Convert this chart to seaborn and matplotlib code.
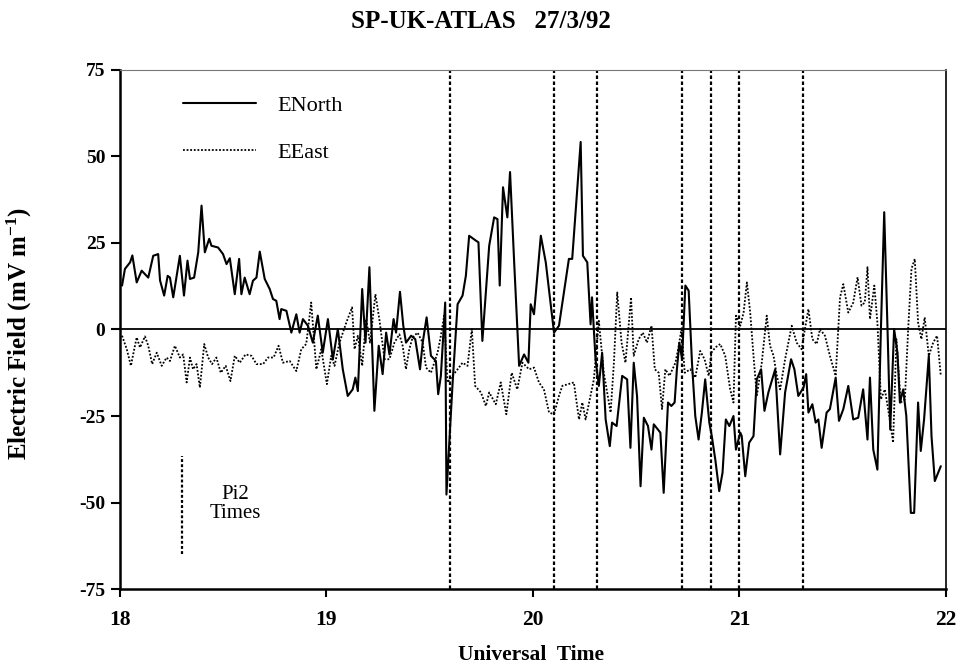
import matplotlib
matplotlib.use("Agg")
import matplotlib.pyplot as plt
import seaborn as sns
import pandas as pd
from matplotlib.lines import Line2D

# ---------------- data ----------------
TITLE = "SP-UK-ATLAS   27/3/92"
X_LABEL = "Universal  Time"
Y_LABEL = r"Electric Field (mV m$^{\mathbf{-1}}$)"
X_TICKS = [18, 19, 20, 21, 22]
Y_TICKS = [-75, -50, -25, 0, 25, 50, 75]

enorth_time = [
    18.010, 18.024, 18.049, 18.060, 18.081, 18.105, 18.137, 18.161, 18.185, 18.194,
    18.214, 18.231, 18.242, 18.258, 18.290, 18.310, 18.327, 18.339, 18.359, 18.379,
    18.395, 18.411, 18.432, 18.443, 18.475, 18.499, 18.516, 18.532, 18.556, 18.577,
    18.588, 18.604, 18.628, 18.644, 18.661, 18.677, 18.701, 18.725, 18.741, 18.757,
    18.773, 18.781, 18.806, 18.830, 18.854, 18.870, 18.886, 18.910, 18.934, 18.958,
    18.982, 19.007, 19.031, 19.055, 19.079, 19.103, 19.127, 19.140, 19.152, 19.173,
    19.189, 19.208, 19.232, 19.253, 19.272, 19.289, 19.305, 19.325, 19.337, 19.356,
    19.372, 19.385, 19.410, 19.430, 19.453, 19.466, 19.485, 19.506, 19.530, 19.541,
    19.554, 19.575, 19.581, 19.595, 19.610, 19.635, 19.659, 19.675, 19.691, 19.723,
    19.736, 19.755, 19.788, 19.812, 19.828, 19.839, 19.855, 19.876, 19.889, 19.909,
    19.933, 19.957, 19.978, 19.989, 20.005, 20.038, 20.062, 20.102, 20.126, 20.174,
    20.190, 20.231, 20.242, 20.263, 20.279, 20.286, 20.303, 20.319, 20.335, 20.352,
    20.372, 20.383, 20.405, 20.432, 20.456, 20.472, 20.488, 20.504, 20.521, 20.537,
    20.557, 20.574, 20.585, 20.617, 20.633, 20.654, 20.670, 20.686, 20.697, 20.709,
    20.722, 20.738, 20.754, 20.770, 20.786, 20.802, 20.818, 20.834, 20.854, 20.866,
    20.883, 20.902, 20.918, 20.934, 20.951, 20.971, 20.983, 21.004, 21.011, 21.028,
    21.047, 21.068, 21.084, 21.105, 21.121, 21.140, 21.173, 21.197, 21.221, 21.250,
    21.266, 21.285, 21.310, 21.323, 21.334, 21.353, 21.369, 21.382, 21.398, 21.422,
    21.438, 21.466, 21.482, 21.503, 21.527, 21.551, 21.575, 21.599, 21.620, 21.632,
    21.648, 21.668, 21.685, 21.701, 21.717, 21.730, 21.749, 21.765, 21.777, 21.793,
    21.808, 21.830, 21.846, 21.865, 21.878, 21.894, 21.917, 21.930, 21.946, 21.975,
]
enorth_value = [
    12.7, 17.5, 19.4, 21.4, 13.6, 17.0, 15.0, 21.3, 21.8, 14.2,
    9.8, 15.5, 15.0, 9.3, 21.3, 9.8, 19.9, 14.6, 15.0, 22.3,
    35.8, 22.3, 26.2, 24.2, 23.7, 21.8, 18.9, 20.6, 10.2, 20.4,
    10.2, 15.0, 10.2, 14.1, 15.0, 22.5, 14.6, 11.7, 8.8, 8.3,
    3.0, 5.9, 5.4, -0.9, 4.4, -0.9, 3.0, 1.1, -3.8, 4.0,
    -6.7, 3.0, -8.6, 0.1, -11.5, -19.2, -17.3, -13.9, -17.8, 11.7,
    -3.8, 18.0, -23.5, -4.7, -12.9, -0.9, -7.2, 3.0, -0.9, 10.9,
    1.1, -3.8, -1.8, -2.8, -11.5, -3.8, 3.5, -7.6, -9.1, -18.7,
    -13.4, 7.8, -47.7, -32.7, -16.3, 7.3, 9.8, 15.5, 27.1, 25.7,
    25.2, -3.3, 24.2, 32.4, 31.9, 12.7, 41.1, 32.4, 45.5, 19.4,
    -10.5, -7.2, -9.6, 7.3, 4.4, 27.1, 19.4, -0.9, 1.1, 20.4,
    20.4, 54.2, 21.3, 19.4, 1.5, 9.3, -8.6, -16.3, -6.7, -26.0,
    -33.7, -26.9, -27.9, -13.4, -14.4, -34.2, -9.6, -19.2, -45.3, -25.5,
    -27.9, -34.7, -27.4, -29.8, -47.2, -21.1, -22.1, -21.1, -11.5, -3.8,
    -8.6, 12.7, 11.2, -9.6, -25.0, -31.8, -24.0, -14.4, -26.9, -30.8,
    -37.6, -46.7, -41.4, -26.0, -27.9, -25.0, -34.7, -29.8, -30.8, -42.4,
    -32.7, -30.8, -14.4, -11.5, -23.5, -18.2, -11.5, -36.1, -18.2, -8.6,
    -11.5, -19.2, -16.8, -12.9, -24.0, -21.6, -26.9, -26.0, -34.2, -24.0,
    -23.0, -13.9, -26.4, -23.0, -16.3, -26.0, -25.5, -17.3, -31.8, -13.9,
    -34.7, -40.5, 0.1, 33.9, 0.1, -28.9, 0.1, -6.7, -21.1, -17.3,
    -25.0, -53.0, -53.0, -21.1, -35.1, -26.0, -7.6, -30.8, -43.8, -39.5,
]

eeast_time = [
    18.010, 18.033, 18.053, 18.069, 18.081, 18.097, 18.121, 18.137, 18.156, 18.178,
    18.202, 18.226, 18.242, 18.266, 18.290, 18.306, 18.323, 18.339, 18.354, 18.371,
    18.387, 18.408, 18.427, 18.446, 18.467, 18.488, 18.512, 18.535, 18.556, 18.580,
    18.608, 18.637, 18.661, 18.693, 18.717, 18.744, 18.768, 18.789, 18.822, 18.854,
    18.878, 18.902, 18.926, 18.951, 18.975, 19.002, 19.023, 19.039, 19.063, 19.096,
    19.124, 19.136, 19.152, 19.173, 19.192, 19.211, 19.237, 19.256, 19.281, 19.305,
    19.329, 19.353, 19.369, 19.385, 19.401, 19.417, 19.441, 19.466, 19.482, 19.506,
    19.538, 19.554, 19.570, 19.586, 19.610, 19.635, 19.659, 19.683, 19.704, 19.720,
    19.748, 19.772, 19.788, 19.820, 19.844, 19.871, 19.897, 19.924, 19.949, 19.981,
    20.005, 20.029, 20.053, 20.078, 20.102, 20.126, 20.142, 20.198, 20.223, 20.239,
    20.255, 20.295, 20.319, 20.343, 20.376, 20.392, 20.408, 20.429, 20.448, 20.475,
    20.488, 20.512, 20.532, 20.552, 20.574, 20.590, 20.609, 20.625, 20.641, 20.661,
    20.690, 20.706, 20.719, 20.735, 20.762, 20.786, 20.810, 20.831, 20.851, 20.864,
    20.883, 20.907, 20.931, 20.955, 20.971, 20.983, 21.004, 21.020, 21.036, 21.052,
    21.068, 21.084, 21.108, 21.132, 21.148, 21.165, 21.181, 21.197, 21.221, 21.253,
    21.277, 21.301, 21.317, 21.334, 21.353, 21.374, 21.390, 21.414, 21.438, 21.466,
    21.487, 21.503, 21.527, 21.551, 21.572, 21.591, 21.607, 21.620, 21.632, 21.653,
    21.668, 21.685, 21.704, 21.728, 21.744, 21.760, 21.781, 21.801, 21.817, 21.833,
    21.849, 21.865, 21.881, 21.897, 21.917, 21.938, 21.957, 21.975,
]
eeast_value = [
    -1.8, -5.7, -10.5, -5.7, -2.3, -5.2, -2.0, -4.7, -10.0, -6.7,
    -10.5, -8.1, -9.1, -4.7, -8.1, -7.2, -15.3, -8.1, -11.5, -10.0,
    -16.8, -4.2, -8.1, -10.0, -8.1, -12.5, -10.5, -14.9, -7.6, -9.6,
    -7.2, -7.6, -10.0, -10.0, -8.1, -8.1, -4.7, -9.6, -9.1, -12.0,
    -5.7, -4.2, 7.8, -11.5, -5.7, -15.8, -7.6, -10.5, -3.8, 2.0,
    6.4, -5.7, -1.8, -10.5, 3.0, -3.8, 10.2, 3.0, -8.6, -8.6,
    -3.8, -1.4, -4.7, -11.5, -5.7, -2.3, -0.9, -3.8, -11.0, -12.5,
    -6.7, -1.8, 4.0, -15.3, -13.4, -11.5, -9.6, -10.5, 0.1, -16.3,
    -18.2, -22.1, -18.2, -21.6, -15.3, -24.5, -12.5, -17.3, -9.6, -11.5,
    -11.0, -15.3, -17.3, -24.0, -24.5, -19.2, -16.3, -15.3, -26.0, -21.1,
    -26.0, -14.4, 2.5, -12.5, -24.0, -9.6, 10.7, -3.8, -9.6, 9.3,
    -7.6, -2.8, -0.9, -3.8, 1.1, -11.5, -12.5, -23.0, -11.5, -13.4,
    -9.6, -4.7, 0.1, -12.5, -11.5, -13.9, -6.2, -8.6, -13.4, -6.7,
    -5.2, -4.2, -7.6, -17.3, -21.1, 4.0, 1.1, 4.9, 13.6, 4.9,
    -7.6, -19.2, -9.6, 4.0, -4.7, -7.6, -13.4, -17.3, -8.6, 1.1,
    -3.8, -5.7, 0.1, 5.9, -2.8, -4.2, 0.1, -1.8, -7.6, -13.4,
    9.3, 13.1, 4.9, 7.8, 15.1, 6.9, 7.8, 18.0, 3.0, 12.7,
    2.0, -20.2, -17.3, -26.0, -32.7, -2.8, -21.1, -20.2, 0.1, 17.5,
    20.4, 2.0, -2.8, 3.5, -7.6, -3.8, -1.8, -13.4,
]

pi2_times = [19.60, 20.10, 20.31, 20.72, 20.86, 21.00, 21.31]
series_names = ["ENorth", "EEast"]

# key annotation for the Pi2 marker (data units)
pi2_key_x = 18.30
pi2_key_y = (-36.5, -65.0)
pi2_text_xy = (18.56, -50.5)

# ---------------- styling ----------------
sns.set_style("ticks")
plt.rcParams["font.family"] = ["Liberation Serif", "DejaVu Serif"]
plt.rcParams["mathtext.fontset"] = "custom"
plt.rcParams["mathtext.rm"] = "Liberation Serif"
plt.rcParams["mathtext.bf"] = "Liberation Serif:bold"
plt.rcParams["mathtext.it"] = "Liberation Serif:italic"
for key in ["text.color", "axes.labelcolor", "xtick.color", "ytick.color", "axes.edgecolor"]:
    plt.rcParams[key] = "black"

df_n = pd.DataFrame({"time": enorth_time, "value": enorth_value})
df_e = pd.DataFrame({"time": eeast_time, "value": eeast_value})

fig = plt.figure(figsize=(9.59, 6.67), dpi=100)
ax = fig.add_axes([0.1251, 0.1169, 0.8613, 0.7782])

sns.lineplot(data=df_n, x="time", y="value", ax=ax, color="black",
             linewidth=1.5, estimator=None, sort=False)
sns.lineplot(data=df_e, x="time", y="value", ax=ax, color="black",
             linewidth=1.3, linestyle=(0, (1, 1)), estimator=None, sort=False)

ax.axhline(0, color="black", linewidth=1.3, zorder=1)
for t in pi2_times:
    ax.axvline(t, color="black", linewidth=1.6, linestyle=(0, (1.6, 1.1)), zorder=1)

ax.set_xlim(X_TICKS[0], X_TICKS[-1])
ax.set_ylim(Y_TICKS[0], Y_TICKS[-1])
ax.set_xticks(X_TICKS)
ax.set_yticks(Y_TICKS)
ax.set_xticklabels([str(v) for v in X_TICKS], fontsize=15.5, fontweight="bold")
ax.set_yticklabels([str(v) for v in Y_TICKS], fontsize=14, fontweight="bold")
ax.tick_params(axis="x", direction="out", length=6, width=1.5, pad=9)
ax.tick_params(axis="y", direction="out", length=6.5, width=1.5, pad=4)
ax.set_xlabel("")
ax.set_ylabel("")

for side in ["left", "bottom"]:
    ax.spines[side].set_linewidth(1.8)
    ax.spines[side].set_color("black")
ax.spines["top"].set_visible(True)
ax.spines["top"].set_linewidth(0.8)
ax.spines["top"].set_color("#777777")
ax.spines["right"].set_visible(True)
ax.spines["right"].set_linewidth(1.2)
ax.spines["right"].set_color("black")

# legend
handles = [Line2D([], [], color="black", linewidth=1.5),
           Line2D([], [], color="black", linewidth=1.3, linestyle=(0, (1, 1)))]
leg = ax.legend(handles, series_names, loc="upper left",
                bbox_to_anchor=(0.076, 0.951), frameon=False, fontsize=16,
                handlelength=3.3, handletextpad=0.95, labelspacing=1.2,
                borderpad=0, borderaxespad=0)

# Pi2 key
ax.vlines(pi2_key_x, pi2_key_y[1], pi2_key_y[0], color="black", linewidth=1.6,
          linestyle=(0, (1.3, 1.0)))
ax.text(pi2_text_xy[0], pi2_text_xy[1], "Pi2\nTimes", ha="center", va="center",
        fontsize=15, linespacing=1.0)

fig.text(0.502, 0.968, TITLE, ha="center", va="center", fontsize=18, fontweight="bold")
fig.text(0.554, 0.018, X_LABEL, ha="center", va="center", fontsize=15.5, fontweight="bold")
fig.text(0.020, 0.50, Y_LABEL, ha="center", va="center", rotation=90,
         fontsize=18, fontweight="bold")

fig.savefig("out.png", dpi=100)
